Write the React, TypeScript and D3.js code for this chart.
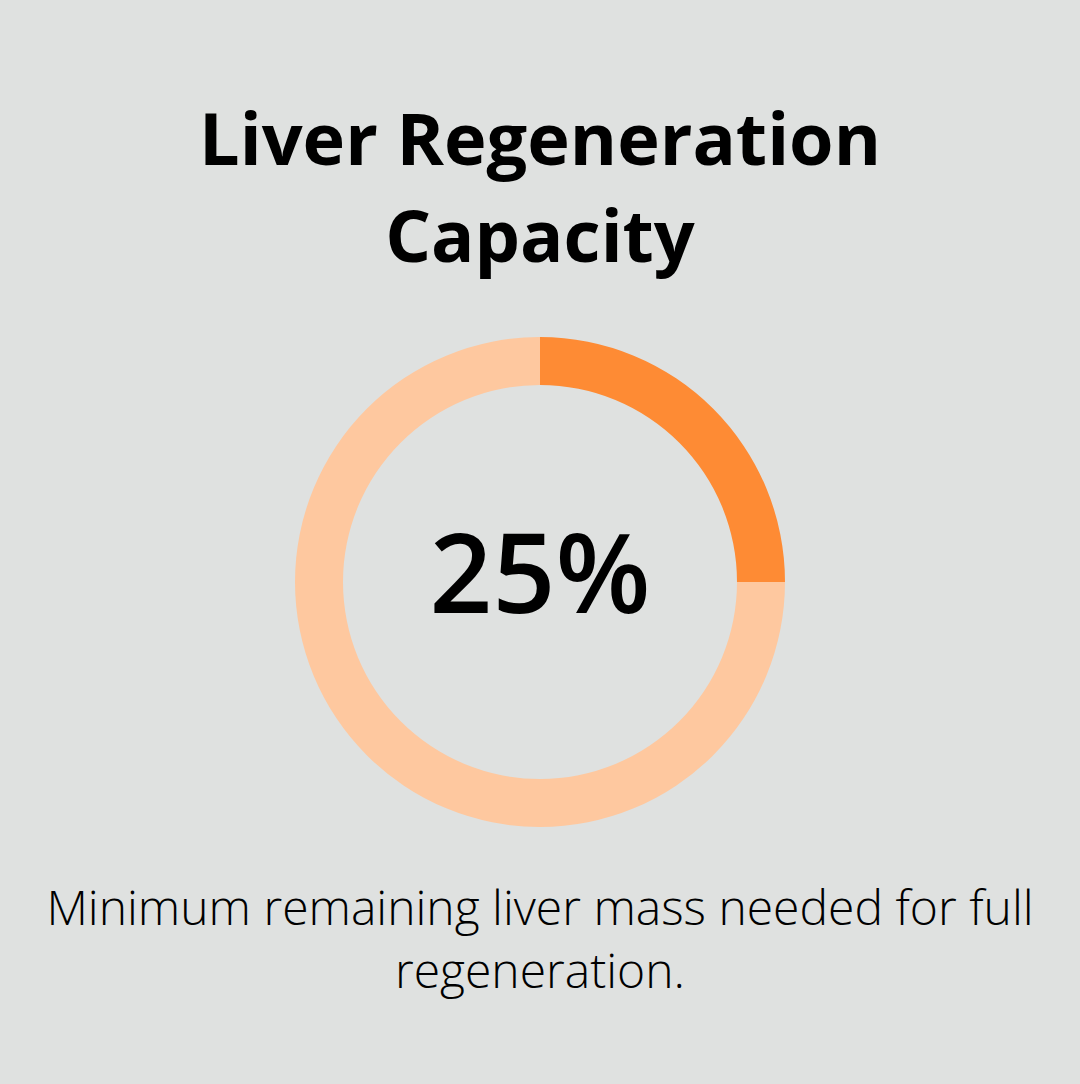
import * as d3 from "d3";
import React from "react";

const titleLines = ["Liver Regeneration", "Capacity"];
const captionLines = ["Minimum remaining liver mass needed for full", "regeneration."];
const segmentLabels = ["Remaining", "Rest"];
const segmentValues = [25, 75];
const centerLabel = "25%";

const W = 1080;
const H = 1084;

const App: React.FC = () => {
  const cx = 540;
  const cy = 582;
  const outer = 245;
  const inner = 197;

  const pie = d3
    .pie<number>()
    .sort(null)
    .value((d) => d);
  const arcs = pie(segmentValues);
  const arc = d3.arc<d3.PieArcDatum<number>>().innerRadius(inner).outerRadius(outer);
  const color = d3
    .scaleOrdinal<string, string>()
    .domain(segmentLabels)
    .range(["#fe8b34", "#fec89f"]);

  return (
    <svg
      width={W}
      height={H}
      style={{ position: "absolute", left: 0, top: 0, display: "block" }}
      fontFamily="'Open Sans', sans-serif"
    >
      <rect width={W} height={H} fill="#dfe1e0" />
      {titleLines.map((t, i) => (
        <text
          key={t}
          x={540}
          y={165 + i * 97}
          textAnchor="middle"
          fontSize={72}
          fontWeight={700}
          fill="#000"
        >
          {t}
        </text>
      ))}
      <g transform={`translate(${cx},${cy})`}>
        {arcs.map((a, i) => (
          <path key={i} d={arc(a)!} fill={color(segmentLabels[i])} />
        ))}
        <text y={31} textAnchor="middle" fontSize={110} fontWeight={600} fill="#000">
          {centerLabel}
        </text>
      </g>
      {captionLines.map((t, i) => (
        <text
          key={t}
          x={540}
          y={925 + i * 63}
          textAnchor="middle"
          fontSize={48}
          fontWeight={300}
          fill="#000"
        >
          {t}
        </text>
      ))}
    </svg>
  );
};

export default App;
